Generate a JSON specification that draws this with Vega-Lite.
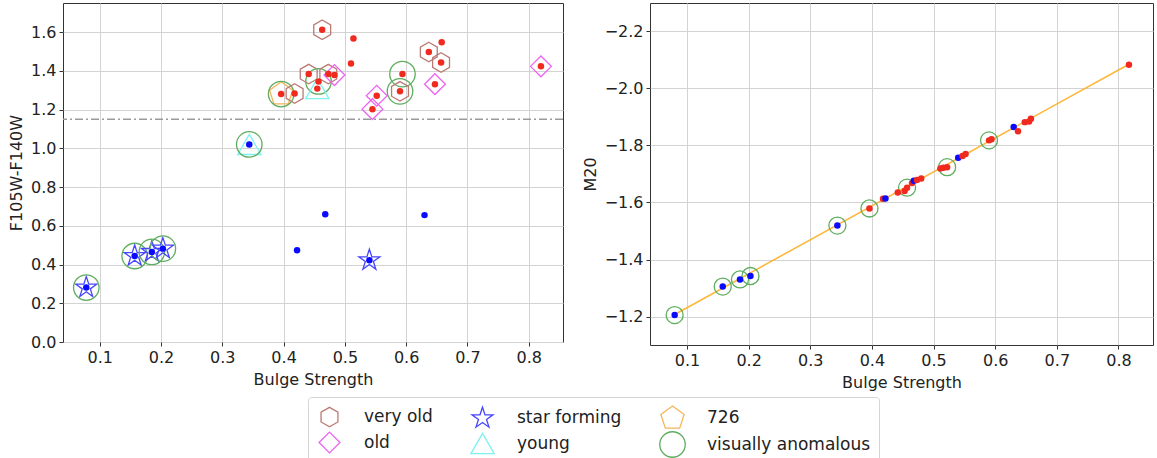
{
  "$schema": "https://vega.github.io/schema/vega-lite/v6.json",
  "padding": {"left": 8, "top": 2, "right": 0, "bottom": 0},
  "background": "white",
  "datasets": {
    "colour": [
      {"bs": 0.078, "col": 0.281, "dot": "blue", "cls": "star forming", "anom": "visually anomalous"},
      {"bs": 0.157, "col": 0.444, "dot": "blue", "cls": "star forming", "anom": "visually anomalous"},
      {"bs": 0.185, "col": 0.465, "dot": "blue", "cls": "star forming", "anom": "visually anomalous"},
      {"bs": 0.203, "col": 0.482, "dot": "blue", "cls": "star forming", "anom": "visually anomalous"},
      {"bs": 0.344, "col": 1.020, "dot": "blue", "cls": "young", "anom": "visually anomalous"},
      {"bs": 0.422, "col": 0.474, "dot": "blue", "cls": null, "anom": null},
      {"bs": 0.468, "col": 0.660, "dot": "blue", "cls": null, "anom": null},
      {"bs": 0.540, "col": 0.422, "dot": "blue", "cls": "star forming", "anom": null},
      {"bs": 0.630, "col": 0.655, "dot": "blue", "cls": null, "anom": null},
      {"bs": 0.463, "col": 1.612, "dot": "red", "cls": "very old", "anom": null},
      {"bs": 0.514, "col": 1.567, "dot": "red", "cls": null, "anom": null},
      {"bs": 0.510, "col": 1.438, "dot": "red", "cls": null, "anom": null},
      {"bs": 0.441, "col": 1.383, "dot": "red", "cls": "very old", "anom": null},
      {"bs": 0.457, "col": 1.345, "dot": "red", "cls": null, "anom": "visually anomalous"},
      {"bs": 0.455, "col": 1.308, "dot": "red", "cls": "young", "anom": null},
      {"bs": 0.473, "col": 1.383, "dot": "red", "cls": "very old", "anom": null},
      {"bs": 0.483, "col": 1.378, "dot": "red", "cls": "old", "anom": null},
      {"bs": 0.396, "col": 1.280, "dot": "red", "cls": "726", "anom": "visually anomalous"},
      {"bs": 0.418, "col": 1.283, "dot": "red", "cls": "very old", "anom": null},
      {"bs": 0.552, "col": 1.271, "dot": "red", "cls": "old", "anom": null},
      {"bs": 0.545, "col": 1.202, "dot": "red", "cls": "old", "anom": null},
      {"bs": 0.594, "col": 1.383, "dot": "red", "cls": null, "anom": "visually anomalous"},
      {"bs": 0.590, "col": 1.294, "dot": "red", "cls": "very old", "anom": "visually anomalous"},
      {"bs": 0.637, "col": 1.497, "dot": "red", "cls": "very old", "anom": null},
      {"bs": 0.658, "col": 1.547, "dot": "red", "cls": null, "anom": null},
      {"bs": 0.657, "col": 1.443, "dot": "red", "cls": "very old", "anom": null},
      {"bs": 0.647, "col": 1.331, "dot": "red", "cls": "old", "anom": null},
      {"bs": 0.820, "col": 1.423, "dot": "red", "cls": "old", "anom": null}
    ],
    "m20": [
      {"bs": 0.080, "m20": -1.205, "dot": "blue", "marker": "visually anomalous"},
      {"bs": 0.158, "m20": -1.305, "dot": "blue", "marker": "visually anomalous"},
      {"bs": 0.186, "m20": -1.330, "dot": "blue", "marker": "visually anomalous"},
      {"bs": 0.203, "m20": -1.342, "dot": "blue", "marker": "visually anomalous"},
      {"bs": 0.344, "m20": -1.519, "dot": "blue", "marker": "visually anomalous"},
      {"bs": 0.396, "m20": -1.579, "dot": "red", "marker": "visually anomalous"},
      {"bs": 0.418, "m20": -1.613, "dot": "red", "marker": null},
      {"bs": 0.422, "m20": -1.614, "dot": "blue", "marker": null},
      {"bs": 0.442, "m20": -1.635, "dot": "red", "marker": null},
      {"bs": 0.453, "m20": -1.640, "dot": "red", "marker": null},
      {"bs": 0.457, "m20": -1.652, "dot": "red", "marker": "visually anomalous"},
      {"bs": 0.465, "m20": -1.668, "dot": "red", "marker": null},
      {"bs": 0.468, "m20": -1.676, "dot": "blue", "marker": null},
      {"bs": 0.473, "m20": -1.679, "dot": "red", "marker": null},
      {"bs": 0.480, "m20": -1.684, "dot": "red", "marker": null},
      {"bs": 0.511, "m20": -1.719, "dot": "red", "marker": null},
      {"bs": 0.516, "m20": -1.722, "dot": "red", "marker": null},
      {"bs": 0.522, "m20": -1.724, "dot": "red", "marker": "visually anomalous"},
      {"bs": 0.540, "m20": -1.757, "dot": "blue", "marker": null},
      {"bs": 0.547, "m20": -1.763, "dot": "red", "marker": null},
      {"bs": 0.552, "m20": -1.770, "dot": "red", "marker": null},
      {"bs": 0.590, "m20": -1.818, "dot": "red", "marker": "visually anomalous"},
      {"bs": 0.594, "m20": -1.822, "dot": "red", "marker": null},
      {"bs": 0.630, "m20": -1.865, "dot": "blue", "marker": null},
      {"bs": 0.637, "m20": -1.850, "dot": "red", "marker": null},
      {"bs": 0.648, "m20": -1.882, "dot": "red", "marker": null},
      {"bs": 0.655, "m20": -1.884, "dot": "red", "marker": null},
      {"bs": 0.658, "m20": -1.894, "dot": "red", "marker": null},
      {"bs": 0.817, "m20": -2.083, "dot": "red", "marker": null}
    ],
    "fit": [
      {"bs": 0.080, "m20": -1.207},
      {"bs": 0.817, "m20": -2.085}
    ],
    "ref": [
      {"ref": 1.15}
    ]
  },
  "hconcat": [
    {
      "width": 500,
      "height": 339,
      "layer": [
        {
          "data": {"name": "ref"},
          "mark": {"type": "rule", "stroke": "#9a9a9a", "strokeWidth": 1.5, "strokeDash": [8, 3, 2, 3]},
          "encoding": {
            "y": {"field": "ref", "type": "quantitative", "title": "F105W-F140W",
                  "scale": {"domain": [0, 1.75], "nice": false, "zero": false},
                  "axis": {"values": [0, 0.2, 0.4, 0.6, 0.8, 1.0, 1.2, 1.4, 1.6], "format": ".1f"}}
          }
        },
        {
          "data": {"name": "colour"},
          "transform": [
            {"fold": ["cls", "anom"], "as": ["kind", "marker"]},
            {"filter": "datum.marker != null"}
          ],
          "mark": {"type": "point", "filled": false, "strokeWidth": 1.3, "opacity": 1},
          "encoding": {
            "x": {"field": "bs", "type": "quantitative", "title": "Bulge Strength",
                  "scale": {"domain": [0.04, 0.856], "nice": false, "zero": false},
                  "axis": {"values": [0.1, 0.2, 0.3, 0.4, 0.5, 0.6, 0.7, 0.8], "format": ".1f"}},
            "y": {"field": "col", "type": "quantitative", "title": "F105W-F140W",
                  "scale": {"domain": [0, 1.75], "nice": false, "zero": false},
                  "axis": {"values": [0, 0.2, 0.4, 0.6, 0.8, 1.0, 1.2, 1.4, 1.6], "format": ".1f"}},
            "shape": {"field": "marker", "type": "nominal", "title": null,
                      "scale": {"domain": ["very old", "old", "star forming", "young", "726", "visually anomalous"],
                                "range": ["M0,-1L0.866,-0.5L0.866,0.5L0,1L-0.866,0.5L-0.866,-0.5Z",
                                          "diamond",
                                          "M0,-1L0.2245,-0.309L0.951,-0.309L0.363,0.118L0.588,0.809L0,0.382L-0.588,0.809L-0.363,0.118L-0.951,-0.309L-0.2245,-0.309Z",
                                          "triangle-up",
                                          "M0,-1L0.951,-0.309L0.588,0.809L-0.588,0.809L-0.951,-0.309Z",
                                          "circle"]}},
            "stroke": {"field": "marker", "type": "nominal", "title": null,
                       "scale": {"domain": ["very old", "old", "star forming", "young", "726", "visually anomalous"],
                                 "range": ["#bb7a74", "#ec64f0", "#4646ff", "#7ef2f2", "#f5b55a", "#5fad5f"]}},
            "size": {"field": "marker", "type": "nominal", "title": null,
                     "scale": {"domain": ["very old", "old", "star forming", "young", "726", "visually anomalous"],
                               "range": [380, 650, 330, 340, 290, 480]}}
          }
        },
        {
          "data": {"name": "colour"},
          "mark": {"type": "circle", "size": 42, "opacity": 1},
          "encoding": {
            "x": {"field": "bs", "type": "quantitative", "title": "Bulge Strength",
                  "scale": {"domain": [0.04, 0.856], "nice": false, "zero": false}},
            "y": {"field": "col", "type": "quantitative", "title": "F105W-F140W"},
            "color": {"field": "dot", "type": "nominal", "legend": null,
                      "scale": {"domain": ["red", "blue"], "range": ["#f02a1e", "#0a0aff"]}}
          }
        }
      ]
    },
    {
      "width": 503,
      "height": 342,
      "layer": [
        {
          "data": {"name": "fit"},
          "mark": {"type": "line", "stroke": "#ffad1f", "strokeWidth": 1.5, "opacity": 0.9},
          "encoding": {
            "x": {"field": "bs", "type": "quantitative", "title": "Bulge Strength",
                  "scale": {"domain": [0.04, 0.856], "nice": false, "zero": false},
                  "axis": {"values": [0.1, 0.2, 0.3, 0.4, 0.5, 0.6, 0.7, 0.8], "format": ".1f"}},
            "y": {"field": "m20", "type": "quantitative", "title": "M20",
                  "scale": {"domain": [-2.3, -1.1], "nice": false, "zero": false, "reverse": true},
                  "axis": {"values": [-2.2, -2.0, -1.8, -1.6, -1.4, -1.2], "format": ".1f"}}
          }
        },
        {
          "data": {"name": "m20"},
          "transform": [{"filter": "datum.marker != null"}],
          "mark": {"type": "point", "filled": false, "strokeWidth": 1.3, "opacity": 1, "size": 290},
          "encoding": {
            "x": {"field": "bs", "type": "quantitative", "title": "Bulge Strength"},
            "y": {"field": "m20", "type": "quantitative", "title": "M20"},
            "shape": {"field": "marker", "type": "nominal", "title": null,
                      "scale": {"domain": ["very old", "old", "star forming", "young", "726", "visually anomalous"],
                                "range": ["M0,-1L0.866,-0.5L0.866,0.5L0,1L-0.866,0.5L-0.866,-0.5Z",
                                          "diamond",
                                          "M0,-1L0.2245,-0.309L0.951,-0.309L0.363,0.118L0.588,0.809L0,0.382L-0.588,0.809L-0.363,0.118L-0.951,-0.309L-0.2245,-0.309Z",
                                          "triangle-up",
                                          "M0,-1L0.951,-0.309L0.588,0.809L-0.588,0.809L-0.951,-0.309Z",
                                          "circle"]}},
            "stroke": {"field": "marker", "type": "nominal", "title": null,
                       "scale": {"domain": ["very old", "old", "star forming", "young", "726", "visually anomalous"],
                                 "range": ["#bb7a74", "#ec64f0", "#4646ff", "#7ef2f2", "#f5b55a", "#5fad5f"]}}
          }
        },
        {
          "data": {"name": "m20"},
          "mark": {"type": "circle", "size": 42, "opacity": 1},
          "encoding": {
            "x": {"field": "bs", "type": "quantitative", "title": "Bulge Strength"},
            "y": {"field": "m20", "type": "quantitative", "title": "M20"},
            "color": {"field": "dot", "type": "nominal", "legend": null,
                      "scale": {"domain": ["red", "blue"], "range": ["#f02a1e", "#0a0aff"]}}
          }
        }
      ]
    }
  ],
  "spacing": 16,
  "config": {
    "font": "DejaVu Sans",
    "view": {"stroke": "#333333", "strokeWidth": 1},
    "axis": {
      "grid": true, "gridColor": "#d3d3d3", "gridWidth": 1,
      "domain": false, "tickColor": "#333333", "tickSize": 4, "tickWidth": 1,
      "labelFont": "DejaVu Sans", "labelFontSize": 16, "labelColor": "#222222", "labelPadding": 3,
      "titleFont": "DejaVu Sans", "titleFontSize": 16, "titleFontWeight": "normal", "titleColor": "#222222",
      "titlePadding": 6
    },
    "legend": {
      "orient": "none", "legendX": 245, "legendY": 394,
      "columns": 3, "columnPadding": 35, "rowPadding": -6,
      "strokeColor": "#d5d5d5", "cornerRadius": 3, "padding": 8,
      "labelFont": "DejaVu Sans", "labelFontSize": 17, "labelColor": "#222222", "labelOffset": 21,
      "labelLimit": 400,
      "symbolStrokeWidth": 1.3, "symbolFillColor": "transparent"
    }
  }
}
